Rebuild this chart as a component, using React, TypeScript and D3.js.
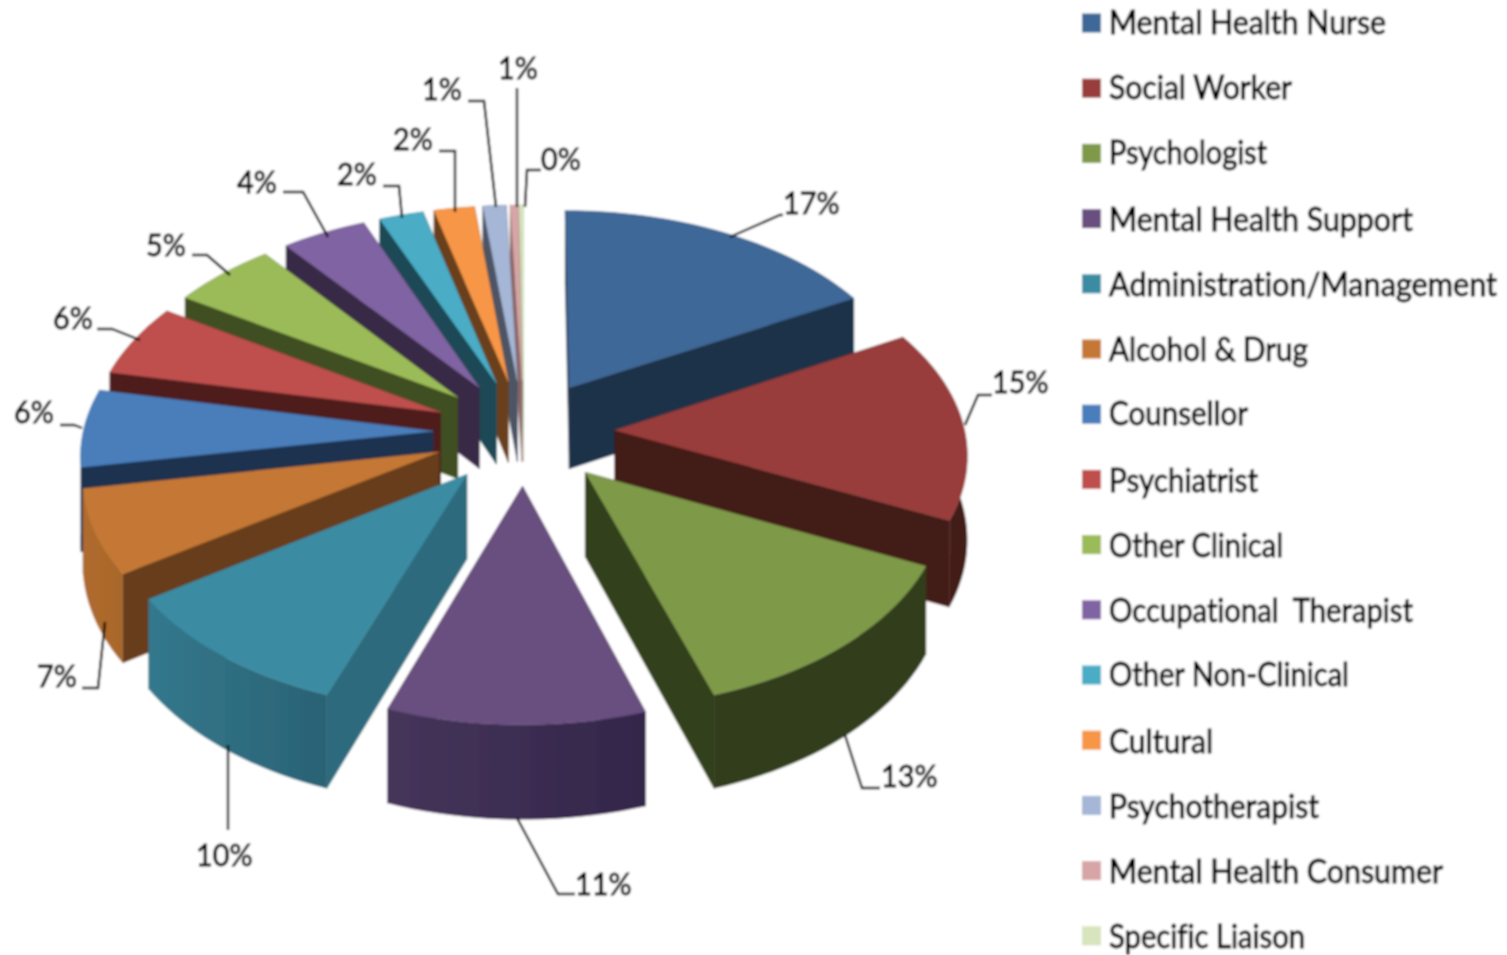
import React from "react";
import * as d3 from "d3";

const categories = ["Mental Health Nurse","Social Worker","Psychologist","Mental Health Support","Administration/Management","Alcohol & Drug","Counsellor","Psychiatrist","Other Clinical","Occupational  Therapist","Other Non-Clinical","Cultural","Psychotherapist","Mental Health Consumer","Specific Liaison"];
const values = [17,15,13,10.5,10.1,6.6,6.1,5.7,5.4,4.4,2.3,2.1,1.2,0.4,0.2];
const valueLabels = ["17%","15%","13%","11%","10%","7%","6%","6%","5%","4%","2%","2%","1%","1%","0%"];

const topColors = ["#3e6797","#983d3a","#7e9a48","#684f7f","#3a8ca3","#c57834","#4a7ebb","#bf504d","#9bbb59","#8064a2","#4bacc6","#f79646","#a5b6d6","#d7a5a5","#d7e4bd"];
const legendColors = topColors;
const sideColors = ["#1e3049","#431a18","#333f1b","#3a2d4c","#2e6b7d","#683e1a","#1e3250","#501f1d","#404f22","#382b47","#1f4a55","#6b411d","#4d5565","#8a6565","#a8b49a"];
const rimStart = ["#1e3049","#431a18","#303e1a","#46355a","#34788d","#b06c2e","#3a6396","#501f1d","#404f22","#382b47","#1f4a55","#6b411d","#4d5565","#8a6565","#a8b49a"];
const rimEnd = ["#1e3049","#431a18","#303e1a","#33264a","#2a6274","#a8662a","#3a6396","#501f1d","#404f22","#382b47","#1f4a55","#6b411d","#4d5565","#8a6565","#a8b49a"];

// layout of the value labels: [text left, text centre y], leader polyline
const labelLayout: { x: number; y: number; leader: [number, number][] }[] = [
  { x: 783, y: 203, leader: [[730,237],[780,215],[783,215]] },
  { x: 992, y: 382, leader: [[965,425],[978,395],[992,395]] },
  { x: 881, y: 776, leader: [[845,735],[862,788],[880,788]] },
  { x: 575, y: 884, leader: [[517,818],[558,894],[575,894]] },
  { x: 196, y: 855, leader: [[228,745],[228,830]] },
  { x: 37, y: 676, leader: [[105,622],[98,688],[82,688]] },
  { x: 14, y: 412, leader: [[82,428],[74,425],[60,425]] },
  { x: 53, y: 318, leader: [[140,340],[112,329],[97,329]] },
  { x: 146, y: 245, leader: [[230,275],[207,255],[192,255]] },
  { x: 237, y: 182, leader: [[328,237],[303,192],[283,192]] },
  { x: 337, y: 174, leader: [[402,218],[399,186],[383,186]] },
  { x: 393, y: 139, leader: [[455,212],[455,151],[439,151]] },
  { x: 422, y: 89, leader: [[496,207],[484,101],[468,101]] },
  { x: 498, y: 68, leader: [[517,207],[517,88]] },
  { x: 541, y: 159, leader: [[525,207],[527,170],[541,170]] },
];
const legendTextWidths = [277,183,158,304,388,199,139,149,174,304,240,104,210,334,196];
const legendTextRows = [23,88,153,220,285,350,414,481,546,611,675,742,807,872,937];

const CX = 524, CY = 432, RX = 350, RY = 203, EXPLODE = 0.26, DEPTH = 83, PERSP = 0.1;
const LEGEND_X = 1082, LEGEND_Y0 = 23, LEGEND_STEP = 65.2, SWATCH = 19, LEGEND_SQUEEZE = 0.92;
const FONT = "Lato, 'Noto Sans', sans-serif";

const pieGen = d3.pie<number>().sort(null).startAngle(0).endAngle(2 * Math.PI);
const arcs = pieGen(values);

function project(theta: number, r: number, mid: number, h: number): [number, number] {
  const u = r * Math.sin(theta) + EXPLODE * Math.sin(mid);
  const v = -r * Math.cos(theta) - EXPLODE * Math.cos(mid);
  const s = 1 / (1 - PERSP * v);
  return [CX + u * RX * s, CY + v * RY * s + h * DEPTH * s];
}
const lineGen = d3.line<[number, number]>();

export default function App() {
  const slices = arcs.map((a, i) => {
    const mid = (a.startAngle + a.endAngle) / 2;
    const n = Math.max(3, Math.ceil((a.endAngle - a.startAngle) * 30));
    const thetas = d3.range(n + 1).map((k) => a.startAngle + ((a.endAngle - a.startAngle) * k) / n);
    const apexT = project(0, 0, mid, 0), apexB = project(0, 0, mid, 1);
    const arcT = thetas.map((t) => project(t, 1, mid, 0));
    const arcB = thetas.map((t) => project(t, 1, mid, 1));
    const top = lineGen([apexT, ...arcT])! + "Z";
    const rim = lineGen([...arcT, ...[...arcB].reverse()])! + "Z";
    const wallA = lineGen([apexT, arcT[0], arcB[0], apexB])! + "Z";
    const wallB = lineGen([apexT, arcT[n], arcB[n], apexB])! + "Z";
    return { i, mid, top, rim, wallA, wallB, depth: -Math.cos(mid) };
  });
  const order = [...slices].sort((a, b) => a.depth - b.depth);
  const textStyle: React.CSSProperties = { fontVariantLigatures: "none", whiteSpace: "pre" };
  return (
    <svg width={1507} height={955} viewBox="0 0 1507 955" style={{ position: "absolute", left: 0, top: 0, background: "#fff" }}>
      <defs>
        <filter id="soft" x="0" y="0" width="1507" height="955" filterUnits="userSpaceOnUse">
          <feGaussianBlur stdDeviation="0.8" />
        </filter>
        {arcs.map((_, i) => (
          <linearGradient key={i} id={`rim${i}`} x1="0" y1="0" x2="1" y2="0">
            <stop offset="0" stopColor={rimStart[i]} />
            <stop offset="1" stopColor={rimEnd[i]} />
          </linearGradient>
        ))}
      </defs>
      <g filter="url(#soft)">
        <rect x={0} y={0} width={1507} height={955} fill="#fff" />
        {order.map((s) => {
          const walls = (
            <>
              <path d={s.wallA} fill={sideColors[s.i]} stroke={sideColors[s.i]} strokeWidth={0.5} />
              <path d={s.wallB} fill={sideColors[s.i]} stroke={sideColors[s.i]} strokeWidth={0.5} />
            </>
          );
          const rim = <path d={s.rim} fill={`url(#rim${s.i})`} />;
          return (
            <g key={s.i}>
              {s.depth < 0 ? rim : walls}
              {s.depth < 0 ? walls : rim}
              <path d={s.top} fill={topColors[s.i]} stroke={topColors[s.i]} strokeWidth={0.5} />
            </g>
          );
        })}
        {labelLayout.map((l, i) => (
          <g key={i}>
            <path d={lineGen(l.leader)!} fill="none" stroke="#000" strokeWidth={2.4} />
            <text transform={`translate(${l.x},${l.y + 11}) scale(0.93,1)`} fontFamily={FONT} fontSize={31} fill="#000" stroke="#000" strokeWidth={0.9} style={textStyle}>{valueLabels[i]}</text>
          </g>
        ))}
        {categories.map((c, i) => {
          const y = LEGEND_Y0 + i * LEGEND_STEP;
          return (
            <g key={c}>
              <rect x={LEGEND_X} y={y - SWATCH / 2} width={SWATCH} height={SWATCH} fill={legendColors[i]} />
              <text transform={`translate(1109,${legendTextRows[i] + 11}) scale(${LEGEND_SQUEEZE},1)`} textLength={legendTextWidths[i] / LEGEND_SQUEEZE} lengthAdjust="spacingAndGlyphs" fontFamily={FONT} fontSize={32} fill="#000" stroke="#000" strokeWidth={0.9} style={textStyle}>{c}</text>
            </g>
          );
        })}
      </g>
    </svg>
  );
}
